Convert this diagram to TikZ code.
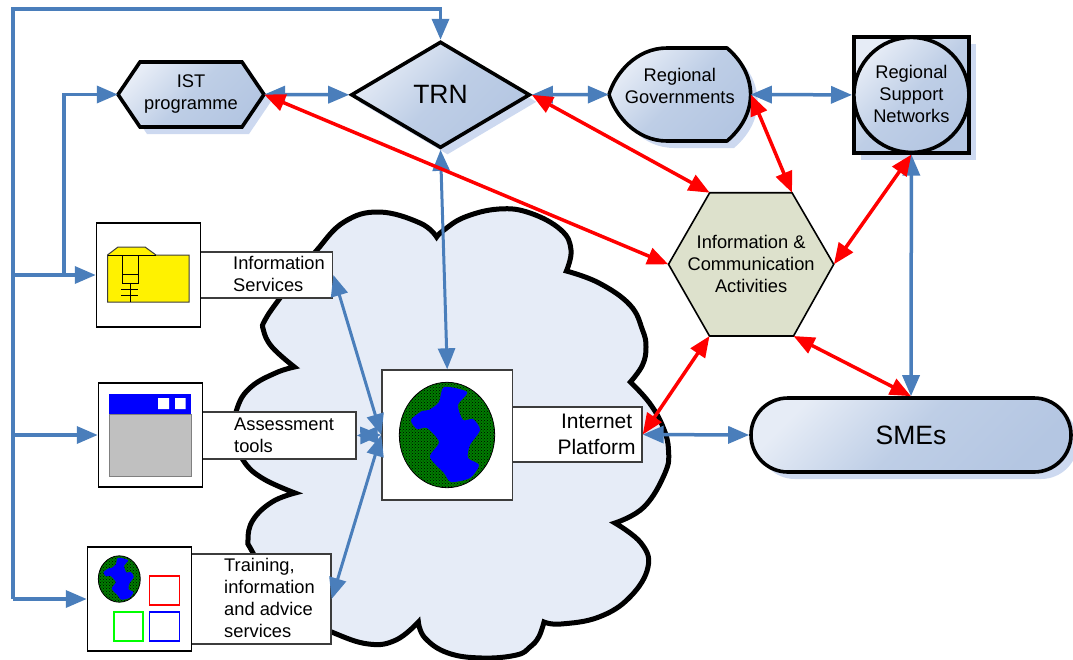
\documentclass[tikz,border=0pt]{standalone}
\usepackage{fontspec}
\setmainfont{Liberation Sans}
\usetikzlibrary{arrows.meta,shapes.geometric,shadows,patterns}
\definecolor{flowblue}{RGB}{74,126,187}
\definecolor{gA}{RGB}{230,236,246}
\definecolor{gM}{RGB}{190,206,230}
\definecolor{gB}{RGB}{180,198,226}
\definecolor{shadowc}{RGB}{205,217,240}
\definecolor{cloudc}{RGB}{230,236,247}
\definecolor{hexc}{RGB}{221,225,204}
\definecolor{boxline}{RGB}{60,60,60}
\definecolor{windowgrey}{RGB}{192,192,192}
\definecolor{globegreen}{RGB}{0,125,0}
\tikzset{
  x=1pt,y=-1pt,
  lab/.style={font=\fontsize{18.3}{22}\selectfont,align=center,inner sep=0pt},
  labl/.style={font=\fontsize{18.3}{22}\selectfont,align=left,inner sep=0pt,anchor=west},
  big/.style={font=\fontsize{26.5}{30}\selectfont,inner sep=0pt},
  grad/.style={top color=gA,bottom color=gB,middle color=gM,shading angle=45},
  shad/.style={general shadow={shadow xshift=7pt,shadow yshift=-7pt,fill=shadowc}},
  flowshape/.style={draw=black,line width=3.6pt,inner sep=0pt,grad,shad},
  iconbox/.style={draw=black,line width=1.5pt,fill=white,inner sep=0pt},
  labelbox/.style={draw=boxline,line width=1.4pt,fill=white,inner sep=0pt},
  bline/.style={draw=flowblue,line width=3.5pt},
  bthin/.style={draw=flowblue,line width=3pt},
  rline/.style={draw=red,line width=3.5pt},
  btip/.style={-{Triangle[length=21pt,width=17pt]}},
  bboth/.style={{Triangle[length=21pt,width=17pt]}-{Triangle[length=21pt,width=17pt]}},
  rboth/.style={{Triangle[length=21pt,width=17pt]}-{Triangle[length=21pt,width=17pt]}},
  globe/.pic={
    \fill[globegreen] (0,0) ellipse [x radius=47.7,y radius=52.7];
    \fill[pattern=crosshatch dots,pattern color=black] (0,0) ellipse [x radius=47.7,y radius=52.7];
    \draw[black,line width=.8pt] (0,0) ellipse [x radius=47.7,y radius=52.7];
    \fill[blue] plot[smooth cycle,tension=.45] coordinates {(-3,-48) (20,-43) (11,-30) (16,-15) (26,-16) (33,-5) (23,10) (21,23) (32,30) (23,43) (4,47) (-3,38) (-17,22) (-8,7) (-20,-7) (-30,-6) (-36,-15) (-25,-24) (-18,-25) (-8,-33)};
  }
}
\begin{document}
\begin{tikzpicture}
\useasboundingbox (0,0) rectangle (1073,659);

% cloud
\draw[line width=5pt,fill=cloudc,miter limit=10]
  plot[smooth,tension=.7] coordinates {(436.6,237) (420,223) (379,212) (344,222) (317,250) (300,272) (280,298) (265,320) (263.4,330) (272,347) (294.4,367)}
  -- plot[smooth,tension=.7] coordinates {(294.4,367) (275.5,373) (251,387) (237.6,407) (234,435) (243,460) (262,478) (295,493)}
  -- plot[smooth,tension=.7] coordinates {(295,493) (272,502) (253,520) (248,540) (253,553) (285,610) (331.6,632) (368.5,644) (396,640) (418.4,622)}
  -- plot[smooth,tension=.7] coordinates {(418.4,622) (425,638) (448,653) (482,658) (516.5,655) (530,647) (538.7,637) (544,622)}
  -- plot[smooth,tension=.7] coordinates {(544,622) (561,624) (599,617) (630,597) (648,567) (641,543) (615,523)}
  -- plot[smooth,tension=.7] coordinates {(615,523) (644,507) (665,473) (668.5,450) (663,427) (649.5,403) (630.4,382)}
  -- plot[smooth,tension=.7] coordinates {(630.4,382) (642.5,365) (646,347) (642.5,330) (630,305) (599,283) (566.4,271)}
  -- plot[smooth,tension=.7] coordinates {(566.4,271) (571,250) (561,230) (530,213) (499,209) (465,217) (444,230) (436.6,237)}
  -- cycle;

% top row
\path[flowshape,line join=miter] (118,94.5) -- (140,62) -- (242,62) -- (264,94.5) -- (242,127) -- (140,127) -- cycle;
\node[lab,minimum width=146pt,minimum height=65pt] (ist) at (191,94.5) {IST\\programme};
\node[flowshape,diamond,minimum width=179pt,minimum height=106.5pt,aspect=1.68,big] (trn) at (440.5,94.8) {TRN};
\path[flowshape,line join=round]
  (667,48) -- (727,48) .. controls (741,60) and (750.6,76) .. (750.6,94.5)
  .. controls (750.6,113) and (741,129) .. (727,141) -- (667,141)
  .. controls (636,141) and (615,115) .. (609,94.5)
  .. controls (615,74) and (636,48) .. (667,48) -- cycle;
\node[minimum width=141.6pt,minimum height=93pt,inner sep=0pt] (gov) at (679.8,94.5) {};
\node[lab] (govtext) at (679.8,86) {Regional\\Governments};
\node[flowshape,rectangle,minimum width=115.2pt,minimum height=115.7pt] (rsnbox) at (911.4,94.9) {};
\node[draw=black,line width=3.6pt,inner sep=0pt,grad,circle,minimum size=115pt] (rsn) at (911.4,94.9) {};
\node[lab] (rsntext) at (911.4,94) {Regional\\Support\\Networks};

% hexagon
\path[draw=black,line width=1.6pt,fill=hexc] (668.5,264.3) -- (709.7,192.7) -- (792,192.7) -- (833.7,264.3) -- (793.5,336) -- (709.5,336) -- cycle;
\node[lab,minimum width=165.2pt,minimum height=143.2pt] (hex) at (751.1,264.3) {Information \&\\Communication\\Activities};
\coordinate (hexTL) at (709.7,192.7);
\coordinate (hexTR) at (792,192.7);
\coordinate (hexBL) at (709.5,336);
\coordinate (hexBR) at (793.5,336);

% SMEs
\node[flowshape,rectangle,rounded corners=36.9pt,minimum width=320pt,minimum height=74pt,big] (sme) at (911,435) {SMEs};

% information services
\node[labelbox,minimum width=132.1pt,minimum height=46pt] (infolabel) at (266.6,275) {};
\node[iconbox,minimum width=104pt,minimum height=104pt] (infobox) at (148.5,275) {};
\node[labl] (infotext) at (233,274) {Information\\Services};
\draw[draw=boxline,line width=1pt,fill=yellow] (107.5,255) -- (118,247) -- (145,247) -- (156,255) -- (189,255) -- (189,302) -- (107.5,302) -- cycle;
\draw[black,line width=1pt] (107.5,255) -- (156,255);
\draw[black,line width=1pt] (122,255) -- (122,283) -- (138,283) -- (138,255) (122,274) -- (138,274) (130,283) -- (130,302) (121,289) -- (138,289) (121,295) -- (138,295);

% assessment tools
\node[labelbox,minimum width=153.5pt,minimum height=47pt] (asslabel) at (279.3,435.5) {};
\node[iconbox,minimum width=104pt,minimum height=104pt] (assbox) at (150.5,435) {};
\node[labl] (asstext) at (234,435) {Assessment\\tools};
\fill[windowgrey] (109,414) rectangle (191,476);
\draw[gray,line width=.6pt] (109,414) rectangle (191,476);
\fill[blue] (109,394) rectangle (191,414);
\fill[white] (158,398) rectangle (169,409) (175,398) rectangle (185.6,409);

% training
\node[labelbox,minimum width=139.5pt,minimum height=90pt] (trainlabel) at (261.2,599) {};
\node[iconbox,minimum width=104pt,minimum height=104pt] (trainbox) at (139.5,599) {};
\node[labl] (traintext) at (224,598) {Training,\\information\\and advice\\services};
\pic[scale=.44] at (119.3,579) {globe};
\draw[red,line width=1.8pt] (149.5,576) rectangle (179.4,605);
\draw[green,line width=1.8pt] (113.6,612) rectangle (143.3,641);
\draw[blue,line width=1.8pt] (149.5,612) rectangle (179.4,641);

% internet platform
\node[labelbox,minimum width=129.6pt,minimum height=55pt] (platlabel) at (577.2,434.5) {};
\node[labelbox,minimum width=130.4pt,minimum height=130pt] (platbox) at (447.2,435) {};
\node[font=\fontsize{21}{26}\selectfont,align=center,inner sep=0pt] (plattext) at (596.6,434) {Internet\\Platform};
\pic at (447,435) {globe};

% blue connectors
\coordinate (bustop) at (13,9);
\coordinate (busbot) at (13,599);
\coordinate (businfo) at (13,275);
\coordinate (busass) at (13,435);
\coordinate (busist) at (64,275);
\draw[bline,btip] (busbot) -- (bustop) -| (trn.north);
\draw[bline,btip] (bustop |- trainbox.west) -- (trainbox.west);
\draw[bline,btip] (busass) -- (assbox.west);
\draw[bline,btip] (businfo) -- (infobox.west);
\draw[bline,btip] (busist) |- (ist.west);
\draw[bline,bboth] (ist.east) -- (trn.west);
\draw[bline,bboth] (trn.east) -- (gov.west);
\draw[bline,bboth] (gov.east) -- (rsnbox.west);
\draw[bline,bboth] (rsnbox.south) -- (sme.north);
\draw[bline,bboth] (platlabel.east) -- (sme.west);
\draw[bthin,bboth] (trn.south) -- (platbox.north);
\draw[bthin,bboth] (infolabel.east) -- (platbox.west);
\draw[bthin,bboth] (asslabel.east) -- (platbox.west);
\draw[bthin,bboth] (trainlabel.east) -- (platbox.west);

% red connectors
\draw[rline,rboth] (ist.east) -- (hex.west);
\draw[rline,rboth] (trn.east) -- (hexTL);
\draw[rline,rboth] (gov.east) -- (hexTR);
\draw[rline,rboth] (rsnbox.south) -- (hex.east);
\draw[rline,rboth] (hexBL) -- (platlabel.east);
\draw[rline,rboth] (hexBR) -- (sme.north);
\end{tikzpicture}
\end{document}
